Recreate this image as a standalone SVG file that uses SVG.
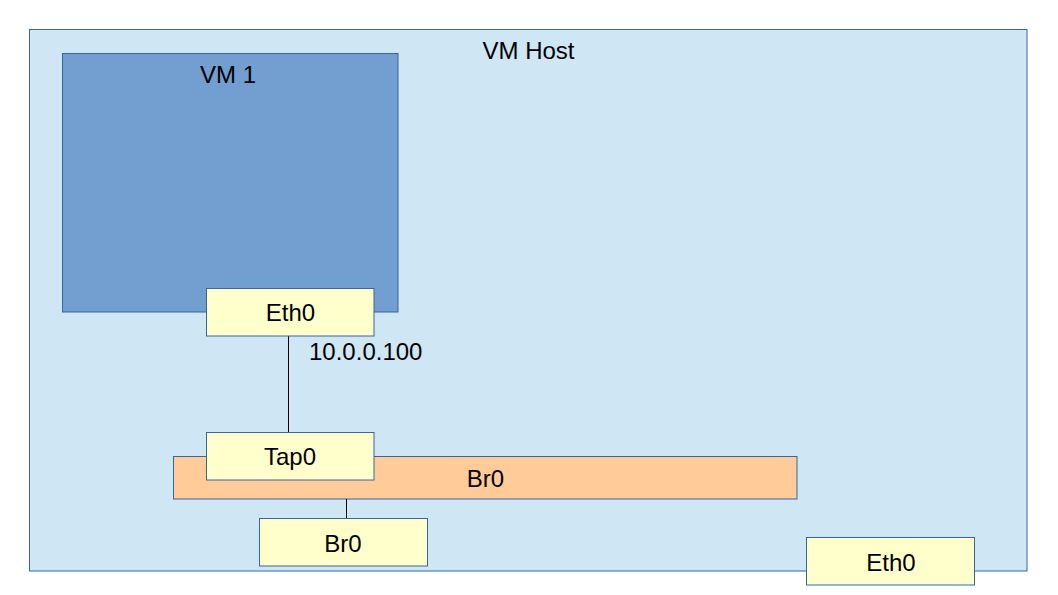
<svg xmlns="http://www.w3.org/2000/svg" width="1058" height="595" viewBox="0 0 1058 595">
<style>
.box{stroke:#3465a4;stroke-width:1}
.nic{fill:#ffffcc}
text{font-family:"Liberation Sans",Arial,sans-serif;font-size:24px;fill:#000}
.c{text-anchor:middle}
.link{stroke:#000;stroke-width:1;fill:none}
</style>
<rect width="1058" height="595" fill="#ffffff"/>
<g id="host">
<rect class="box" x="29.5" y="29.5" width="997.5" height="541.5" fill="#cfe7f5"/>
<text class="c" x="528.5" y="58.5">VM Host</text>
</g>
<g id="vm1">
<rect class="box" x="62.5" y="53.5" width="335.5" height="258.5" fill="#729fcf"/>
<text class="c" x="228" y="82.5">VM 1</text>
</g>
<g id="br0bar">
<rect class="box" x="173.5" y="456.5" width="623.5" height="42.5" fill="#ffcc99"/>
<text class="c" x="485.5" y="487">Br0</text>
</g>
<g id="connectors">
<line class="link" x1="288.5" y1="336" x2="288.5" y2="432"/>
<line class="link" x1="346.5" y1="499" x2="346.5" y2="518"/>
</g>
<g id="eth0vm">
<rect class="box nic" x="206.5" y="288.5" width="167.5" height="47.5"/>
<text class="c" x="290.5" y="321">Eth0</text>
</g>
<text x="309" y="359.5">10.0.0.100</text>
<g id="tap0">
<rect class="box nic" x="206.5" y="432.5" width="167.5" height="47.5"/>
<text class="c" x="290" y="465">Tap0</text>
</g>
<g id="br0">
<rect class="box nic" x="259.5" y="518.5" width="168" height="47.5"/>
<text class="c" x="343" y="552">Br0</text>
</g>
<g id="eth0host">
<rect class="box nic" x="806.5" y="537.5" width="168" height="47.5"/>
<text class="c" x="891" y="571">Eth0</text>
</g>
</svg>
